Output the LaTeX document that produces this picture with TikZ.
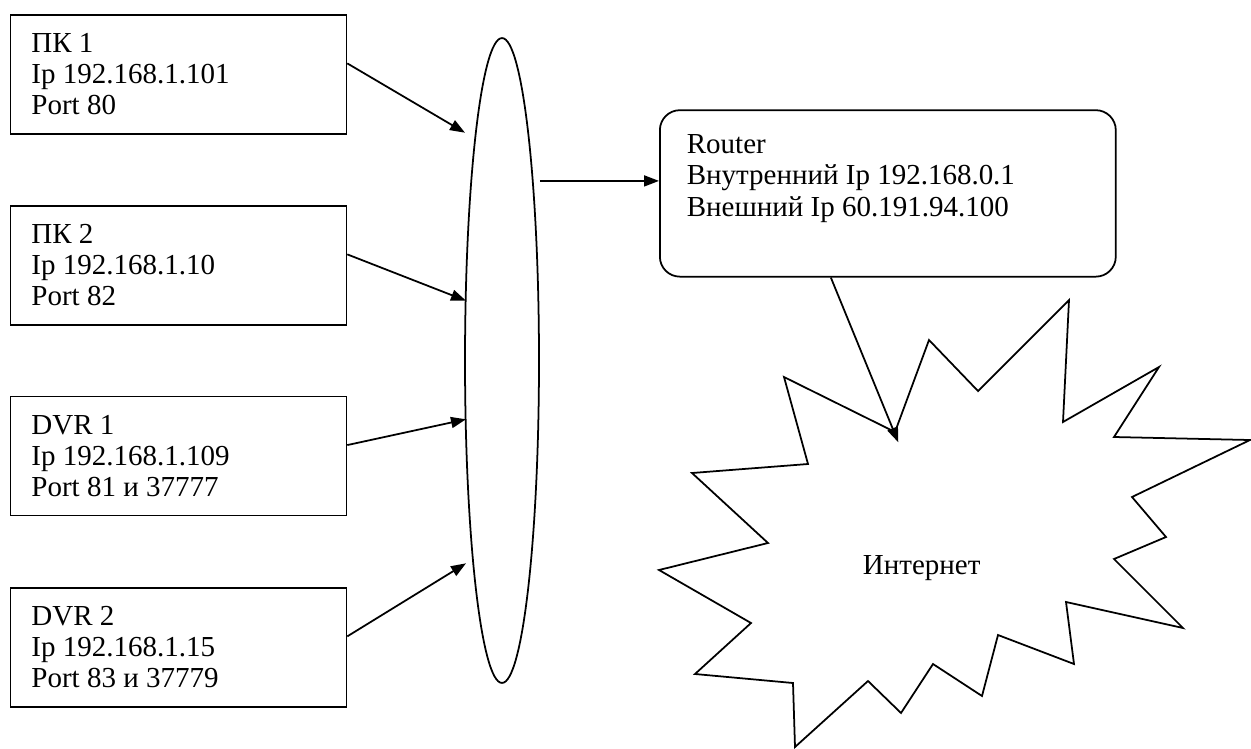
\documentclass[tikz,border=0pt]{standalone}
\usepackage{fontspec}
\setmainfont{Liberation Serif}
\usetikzlibrary{arrows.meta, shapes.geometric}

\newcommand{\hosttext}[3]{\parbox[t][2.38cm][t]{5.88cm}{\rule{0pt}{0.75cm}#1\\#2\\#3}}

\begin{document}
\begin{tikzpicture}[x=0.02cm, y=-0.02cm, line width=1pt,
    font=\fontsize{16.5}{17.8}\selectfont,
    hostbox/.style={draw, inner xsep=0.42cm, inner ysep=0pt, anchor=north west},
    routerbox/.style={draw, rounded corners=0.4cm, inner xsep=0.54cm, inner ysep=0pt, anchor=north west},
    link/.style={-{Triangle[length=0.3cm, width=0.22cm]}}]
\useasboundingbox (0,0) rectangle (1251,748);
% hosts
\foreach \name/\y/\first/\ip/\port in {
    pc1/14/ПК 1/Ip 192.168.1.101/Port 80,
    pc2/205/ПК 2/Ip 192.168.1.10/Port 82,
    dvr1/395.7/DVR 1/Ip 192.168.1.109/Port 81 и 37777,
    dvr2/587/DVR 2/Ip 192.168.1.15/Port 83 и 37779}{
    \node[hostbox] (\name) at (9.6,\y) {\hosttext{\first}{\ip}{\port}};
}
\node[draw, ellipse, minimum width=1.48cm, minimum height=12.9cm, inner sep=0pt] (hub) at (502,360.5) {};
\node[routerbox] (router) at (659,109.3) {\parbox[t][3.33cm][t]{8.04cm}{\rule{0pt}{0.87cm}Router\\Внутренний Ip 192.168.0.1\\Внешний Ip 60.191.94.100}};
% arrow ends
\coordinate (in1) at (465,132.7);
\coordinate (in2) at (466,300.7);
\coordinate (in3) at (466,419.3);
\coordinate (in4) at (466,563.3);
\coordinate (rin) at ([yshift=0.25cm]router.west);
\coordinate (hit) at (898.3,442.3);
\foreach \src/\dst in {pc1/in1, pc2/in2, dvr1/in3, dvr2/in4}{
    \draw[link] ([yshift=0.22cm]\src.east) -- (\dst);
}
\draw[link] (rin -| hub.east) -- (rin);
% internet
\draw (784,377) -- (895,432) -- (929,340) -- (978,391) -- (1069,300) --
    (1063,422) -- (1159,367) -- (1114,437) -- (1250,440) -- (1132,497) --
    (1166,537) -- (1114,559) -- (1183,628) -- (1066,602) -- (1074,664) --
    (998,635) -- (982,696) -- (933,664) -- (901,713) -- (868,681) --
    (795,747) -- (793,683) -- (695,674) -- (751,623) -- (659,570) --
    (768,543) -- (692,473) -- (808,464) -- cycle;
\node (inet) at (921.7,568.3) {Интернет};
\draw[link] ([xshift=-1.14cm]router.south) -- (hit);
\end{tikzpicture}
\end{document}
